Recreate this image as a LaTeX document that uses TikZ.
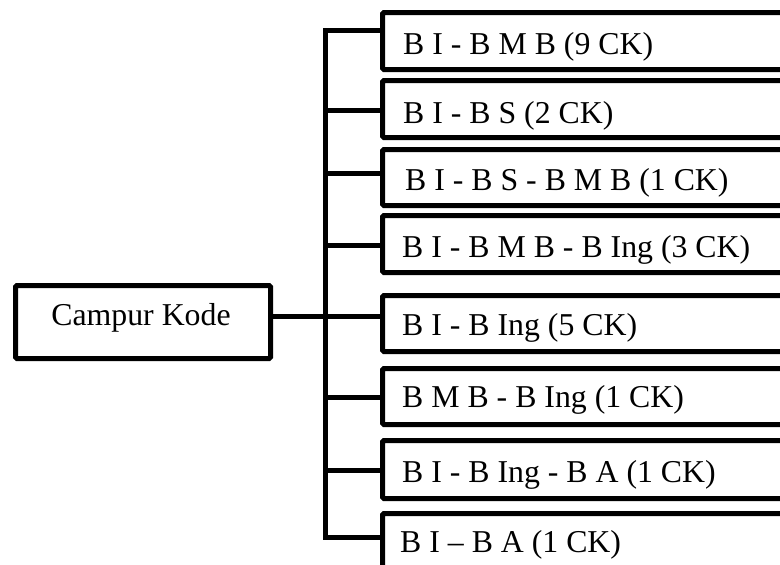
\documentclass[tikz,border=0pt]{standalone}
\usepackage{fontspec}
\setmainfont{Liberation Serif}
\begin{document}
\begin{tikzpicture}[x=1pt,y=-1pt,
  box/.style={draw, line width=5pt, rounded corners=1.5pt, fill=white, inner sep=0pt, anchor=north west},
  lab/.style={anchor=base west, inner sep=0pt, font=\fontsize{31.8}{36}\selectfont},
  conn/.style={line width=5pt}]
\useasboundingbox (0,0) rectangle (780,565);
\clip (0,0) rectangle (780,565);
\node[box, minimum width=255, minimum height=73] (ck) at (13,283) {};
\node[lab, anchor=base] (ckl) at (141,325) {Campur Kode};
\foreach \i/\tp/\h/\tx/\bl/\by/\txt in {
  1/10/57/403/54/30/{B I - B M B (9 CK)},
  2/78/57/403/123/110/{B I - B S (2 CK)},
  3/147/56/405/190/173/{B I - B S - B M B (1 CK)},
  4/213/57/402/257/245/{B I - B M B - B Ing (3 CK)},
  5/293/56/402/335/316/{B I - B Ing (5 CK)},
  6/366/56/402/407/397/{B M B - B Ing (1 CK)},
  7/438/58/402/482/470/{B I - B Ing - B A (1 CK)},
  8/511/90/400/552/537/{B I – B A (1 CK)}}{
  \node[box, minimum width=440, minimum height=\h] (b\i) at (380,\tp) {};
  \begin{scope}
    \clip ([shift={(2,2)}]b\i.north west) rectangle ([shift={(-2,-6)}]b\i.south east);
    \node[lab] (l\i) at (\tx,\bl) {\txt};
  \end{scope}
  \coordinate (t\i) at (325,\by);
}
\coordinate (tck) at (325,316);
\draw[conn] (t1 -| b1.west) -- (t1) -- (t8) -- (t8 -| b8.west);
\foreach \i in {2,...,7} \draw[conn] (t\i) -- (t\i -| b\i.west);
\draw[conn] (tck -| ck.east) -- (tck);
\end{tikzpicture}
\end{document}
